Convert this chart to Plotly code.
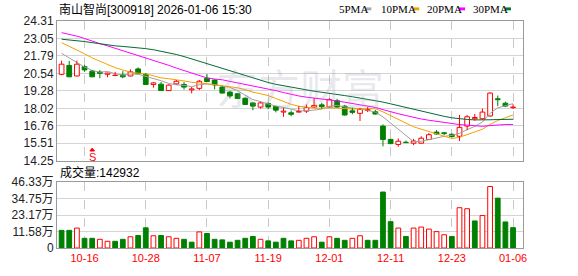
import plotly.graph_objects as go

# ---------------- data ----------------
dates = ["10-13", "10-14", "10-15", "10-16", "10-17", "10-20", "10-21", "10-22", "10-23", "10-24",
         "10-27", "10-28", "10-29", "10-30", "10-31", "11-03", "11-04", "11-05", "11-06", "11-07",
         "11-10", "11-11", "11-12", "11-13", "11-14", "11-17", "11-18", "11-19", "11-20", "11-21",
         "11-24", "11-25", "11-26", "11-27", "11-28", "12-01", "12-02", "12-03", "12-04", "12-05",
         "12-08", "12-09", "12-10", "12-11", "12-12", "12-15", "12-16", "12-17", "12-18", "12-19",
         "12-22", "12-23", "12-24", "12-25", "12-26", "12-29", "12-30", "12-31", "01-05", "01-06"]
shown_dates = ["10-16", "10-28", "11-07", "11-19", "12-01", "12-11", "12-23", "01-06"]

opens = [20.47, 21.11, 20.35, 21.02, 20.70, 20.63, 20.47, 20.38, 20.42, 20.35,
         20.86, 20.47, 19.74, 19.76, 19.30, 19.78, 19.74, 19.35, 19.46, 20.19,
         20.06, 19.55, 19.19, 19.07, 18.75, 18.41, 18.11, 18.37, 18.16, 17.75,
         17.70, 17.75, 17.82, 18.11, 18.27, 18.11, 18.57, 18.18, 17.84, 17.66,
         17.86, 17.77, 16.74, 15.78, 15.42, 15.58, 15.51, 15.51, 15.78, 16.31,
         16.26, 16.15, 16.01, 16.74, 17.27, 17.27, 17.47, 18.71, 18.39, 18.07]
highs = [21.45, 21.43, 21.45, 21.15, 20.77, 20.77, 20.58, 20.65, 20.70, 20.83,
         20.97, 20.56, 19.92, 19.92, 19.75, 20.06, 19.92, 19.55, 20.06, 20.49,
         20.10, 19.62, 19.28, 19.12, 18.80, 18.43, 18.50, 18.46, 18.21, 18.07,
         17.86, 18.18, 18.30, 18.75, 18.41, 18.75, 18.71, 18.27, 18.07, 18.05,
         18.11, 17.91, 16.86, 15.85, 15.85, 15.69, 15.83, 16.01, 16.24, 16.45,
         16.31, 16.22, 17.54, 17.54, 17.61, 18.00, 19.17, 18.94, 18.50, 18.32]
lows = [20.40, 20.27, 20.33, 20.65, 20.27, 20.19, 20.26, 20.36, 20.19, 20.33,
        20.47, 19.72, 19.51, 19.28, 19.28, 19.74, 19.37, 19.10, 19.33, 19.92,
        19.39, 19.10, 18.73, 18.71, 18.25, 17.89, 18.00, 17.95, 17.73, 17.41,
        17.45, 17.73, 17.68, 18.07, 18.00, 18.07, 18.07, 17.50, 17.59, 17.11,
        17.75, 17.58, 15.28, 15.44, 15.26, 15.53, 15.37, 15.49, 15.76, 16.13,
        16.10, 15.92, 15.67, 16.45, 17.13, 17.20, 17.43, 18.18, 18.11, 17.98]
closes = [21.20, 20.29, 21.20, 20.79, 20.29, 20.54, 20.56, 20.40, 20.29, 20.65,
          20.51, 19.74, 19.85, 19.30, 19.69, 19.97, 19.55, 19.42, 19.97, 19.95,
          19.71, 19.12, 18.91, 18.73, 18.30, 18.18, 18.41, 18.11, 17.89, 17.82,
          17.59, 17.79, 18.07, 18.23, 18.14, 18.64, 18.11, 17.54, 17.73, 17.95,
          17.93, 17.61, 15.78, 15.48, 15.65, 15.55, 15.67, 15.87, 16.12, 16.17,
          16.20, 15.99, 16.65, 17.41, 17.36, 17.75, 19.12, 18.64, 18.18, 18.11]

# volume in 万 (last day 142932)
volumes_wan = [12.4, 12.4, 14.0, 6.8, 6.8, 6.1, 4.7, 4.7, 6.1, 7.9,
               8.8, 14.2, 8.6, 8.8, 7.9, 6.8, 6.1, 4.1, 11.3, 10.2,
               6.1, 5.7, 4.1, 5.4, 6.8, 8.1, 6.1, 5.0, 4.1, 6.8,
               5.0, 5.4, 6.8, 7.9, 4.1, 7.9, 6.8, 5.4, 6.8, 8.6,
               5.4, 5.4, 39.3, 18.5, 14.0, 8.1, 14.0, 14.7, 13.3, 11.5,
               9.3, 8.1, 28.3, 27.6, 19.0, 22.8, 43.2, 35.0, 18.3, 14.2932]
vol_dir = list("ddudduuddu" "dduduuddud" "dddddduddd" "duuududduu" "dddduduuuu" "uduuduuddd")
last_volume = 142932

# moving-average values before enough visible history exists
ma5_head = [21.98, 21.66, 21.30, 20.99]
ma10_head = [22.75, 22.50, 22.25, 21.95, 21.65, 21.40, 21.15, 20.95, 20.78]
ma20_head = [23.47, 23.35, 23.22, 23.05, 22.85, 22.68, 22.52, 22.35, 22.15, 21.97,
             21.82, 21.66, 21.50, 21.30, 21.12, 20.92, 20.75, 20.55, 20.38]
ma30_head = [23.00, 22.96, 22.90, 22.83, 22.75, 22.66, 22.58, 22.52, 22.48, 22.44,
             22.39, 22.32, 22.24, 22.14, 22.03, 21.90, 21.75, 21.58, 21.42, 21.26,
             21.08, 20.92, 20.76, 20.58, 20.40, 20.20, 20.03, 19.88, 19.75]

price_ticks = [14.25, 15.51, 16.76, 18.02, 19.28, 20.54, 21.79, 23.05, 24.31]
vol_ticks = [0, 11.58, 23.17, 34.75, 46.33]
vol_ticktext = ["0", "11.58万", "23.17万", "34.75万", "46.33万"]

title_text = "南山智尚[300918] 2026-01-06 15:30"
ma_names = ["5PMA", "10PMA", "20PMA", "30PMA"]

# ---------------- styles ----------------
RED = "#ff0000"
GREEN = "#008000"
MA_COLORS = ["#a0a0a0", "#f5a000", "#ff00ff", "#006b33"]
LEG_COLORS = ["#a8a8a8", "#f0a000", "#ff00ff", "#007a33"]
GRID = "#d4d4d4"
BORDER = "#9a9a9a"

n = len(closes)
idx = list(range(n))


def moving_avg(head, w):
    out = list(head)
    for i in range(len(head), n):
        out.append(sum(closes[i - w + 1:i + 1]) / w)
    return out


mas = [moving_avg(ma5_head, 5), moving_avg(ma10_head, 10),
       moving_avg(ma20_head, 20), moving_avg(ma30_head, 30)]

fig = go.Figure()

# MA lines (drawn under candles)
for ma, col in zip(mas, MA_COLORS):
    fig.add_trace(go.Scatter(x=idx, y=ma, mode="lines", line=dict(color=col, width=1),
                             xaxis="x", yaxis="y", hoverinfo="skip", showlegend=False))

# wicks
for up in (True, False):
    wx, wy = [], []
    for i in idx:
        if (closes[i] >= opens[i]) != up:
            continue
        top = max(opens[i], closes[i])
        bot = min(opens[i], closes[i])
        wx += [i, i, None, i, i, None]
        wy += [highs[i], top, None, bot, lows[i], None]
    fig.add_trace(go.Scatter(x=wx, y=wy, mode="lines",
                             line=dict(color=RED if up else GREEN, width=1),
                             xaxis="x", yaxis="y", hoverinfo="skip", showlegend=False))

# bodies
for up in (True, False):
    bx = [i for i in idx if (closes[i] >= opens[i]) == up]
    base = [min(opens[i], closes[i]) for i in bx]
    hgt = [max(abs(closes[i] - opens[i]), 0.025) for i in bx]
    fig.add_trace(go.Bar(x=bx, y=hgt, base=base, width=0.62,
                         marker=dict(color="white" if up else GREEN,
                                     line=dict(color=RED if up else GREEN, width=1)),
                         xaxis="x", yaxis="y", hoverinfo="skip", showlegend=False))

# volume
for d in ("u", "d"):
    vx = [i for i in idx if vol_dir[i] == d]
    vy = [volumes_wan[i] for i in vx]
    fig.add_trace(go.Bar(x=vx, y=vy, width=0.62,
                         marker=dict(color="white" if d == "u" else GREEN,
                                     line=dict(color=RED if d == "u" else GREEN, width=1)),
                         xaxis="x2", yaxis="y2", hoverinfo="skip", showlegend=False))

# ---------------- layout ----------------
W, H = 578, 276
L, R, T, B = 56, 55, 21, 21
PW, PH = W - L - R, H - T - B


def px(x):
    return (x - L) / PW


def py(y):
    return (H - B - y) / PH


tick_idx = [dates.index(d) for d in shown_dates]
xcommon = dict(range=[-0.6, 60.3], tickmode="array", tickvals=tick_idx, ticktext=shown_dates,
               showgrid=True, gridcolor="#c8c8c8", griddash="dash", gridwidth=1,
               showline=True, linecolor=BORDER, linewidth=1, mirror=True,
               zeroline=False, ticks="", fixedrange=True)

fig.update_layout(
    width=W, height=H, margin=dict(l=L, r=R, t=T, b=B, pad=0),
    paper_bgcolor="white", plot_bgcolor="white", barmode="overlay", showlegend=False,
    font=dict(family="Liberation Sans, Arial, Noto Sans CJK SC", size=12, color="#222222"),
    xaxis=dict(xcommon, anchor="y", domain=[0, 1], showticklabels=False),
    xaxis2=dict(xcommon, anchor="y2", domain=[0, 1], matches="x", showticklabels=True,
                tickfont=dict(color=RED, size=11)),
    yaxis=dict(domain=[py(165), 1.0], range=[price_ticks[0], price_ticks[-1]],
               tickmode="array", tickvals=price_ticks, ticktext=[f"{v:.2f}" for v in price_ticks],
               showgrid=True, gridcolor=GRID, showline=True, linecolor=BORDER, mirror=True,
               zeroline=False, ticks="", tickfont=dict(size=12)),
    yaxis2=dict(domain=[0, py(187)], range=[vol_ticks[0], vol_ticks[-1]],
                tickmode="array", tickvals=vol_ticks, ticktext=vol_ticktext,
                showgrid=True, gridcolor=GRID, showline=True, linecolor=BORDER, mirror=True,
                zeroline=False, ticks="", tickfont=dict(size=12)),
)

ann = []
# title
ann.append(dict(x=px(56), y=py(9), xref="paper", yref="paper", xanchor="left", yanchor="middle",
                text=title_text, showarrow=False,
                font=dict(size=12, color="#000000", family="Liberation Sans, Noto Sans CJK SC")))
# legend
leg_text_x = [337, 379, 425, 471]
leg_box_x = [365, 413, 459, 505]
shapes = []
for name, tx, bxp, col in zip(ma_names, leg_text_x, leg_box_x, LEG_COLORS):
    ann.append(dict(x=px(tx), y=py(9), xref="paper", yref="paper", xanchor="left",
                    yanchor="middle", text=name, showarrow=False,
                    font=dict(size=11, color="#000000", family="Liberation Serif")))
    shapes.append(dict(type="rect", xref="paper", yref="paper", x0=px(bxp), x1=px(bxp + 6),
                       y0=py(10), y1=py(7), fillcolor=col, line=dict(width=0)))
# volume label
ann.append(dict(x=px(57), y=py(177), xref="paper", yref="paper", xanchor="left", yanchor="middle",
                text=f"成交量:{last_volume}", showarrow=False,
                font=dict(size=12, color="#000000", family="Liberation Sans, Noto Sans CJK SC")))
# watermark
ann.append(dict(x=px(300), y=py(89), xref="paper", yref="paper", xanchor="center", yanchor="middle",
                text="东方财富", showarrow=False,
                font=dict(size=42, color="rgba(150,150,175,0.22)", family="Noto Sans CJK SC")))
# S marker with small arrow
ann.append(dict(x=4, y=py(161.5), xref="x", yref="paper", xanchor="center", yanchor="middle",
                text="S", showarrow=False, font=dict(size=11, color=RED, family="Liberation Sans")))
shapes.append(dict(type="path", xref="x", yref="paper",
                   path=f"M 3.7 {py(155)} L 4.0 {py(152)} L 4.3 {py(155)} Z",
                   fillcolor=RED, line=dict(color=RED, width=1)))

fig.update_layout(annotations=ann, shapes=shapes)

fig.write_html("out.html")
